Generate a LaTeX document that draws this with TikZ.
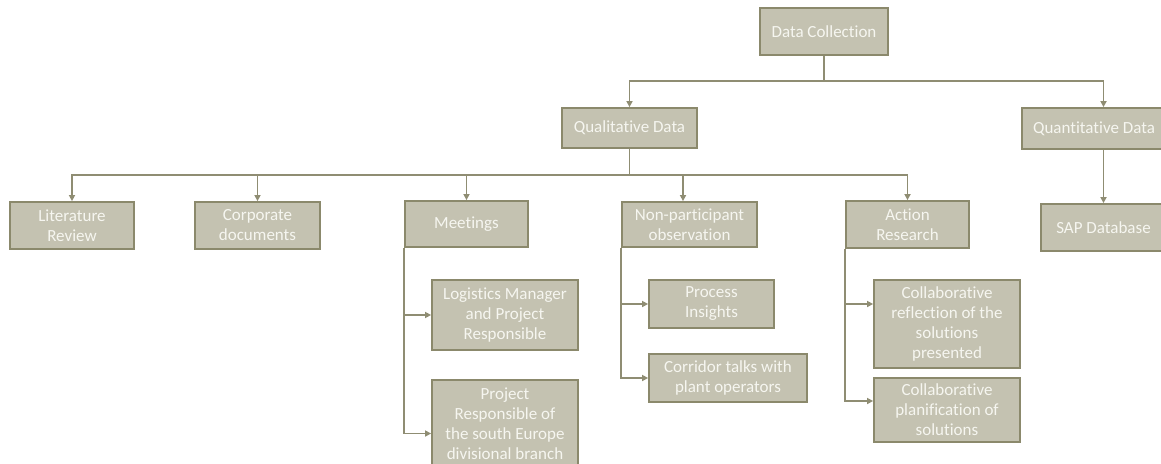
\documentclass[tikz,border=0pt]{standalone}
\usepackage{fontspec}
\setmainfont[Ligatures=NoCommon]{Carlito}
\usetikzlibrary{arrows.meta}
\definecolor{boxfill}{RGB}{196,194,177}
\definecolor{boxedge}{RGB}{139,137,108}
\definecolor{wire}{RGB}{143,141,115}
\definecolor{boxtext}{RGB}{246,246,240}
\tikzset{
  box/.style={draw=boxedge, line width=1.8pt, fill=boxfill, text=boxtext,
    inner sep=0pt, align=center, font=\fontsize{17}{20}\selectfont},
  wireline/.style={draw=wire, line width=1.5pt},
  arr/.style={wireline, -{Triangle[length=6pt,width=6pt]}},
}
\newcommand{\bx}[6]{\node[box, minimum width=#4pt, minimum height=#5pt] (#1) at (#2,#3) {#6};}
\begin{document}
\begin{tikzpicture}[x=1pt,y=-1pt]
\useasboundingbox (0,0) rectangle (1161,463);
\clip (0,0) rectangle (1161,463);
\fill[white] (0,0) rectangle (1161,463);

% top levels
\bx{dc}{824}{31.5}{128}{47}{Data Collection}
\bx{qual}{629.5}{128}{135}{40}{Qualitative Data}
\bx{quant}{1094}{128.5}{144}{41}{Quantitative Data}
\bx{sap}{1103.5}{227.5}{125}{47}{SAP Database}

% qualitative branches
\bx{lit}{72}{225.5}{124}{47}{Literature\\Review}
\bx{corp}{257.5}{225.5}{125}{47}{Corporate\\documents}
\bx{meet}{466.5}{224}{123}{46}{Meetings}
\bx{nonp}{689.5}{224.5}{135}{45}{Non-participant\\observation}
\bx{act}{907.5}{224.5}{123}{47}{Action\\Research}

% sub-items
\bx{log}{505}{315}{146}{70}{Logistics Manager\\and Project\\Responsible}
\bx{proj}{505}{423.5}{146}{87}{Project\\Responsible of\\the south Europe\\divisional branch}
\bx{proc}{711.5}{304}{125}{48}{Process\\Insights}
\bx{corr}{728}{378}{158}{48}{Corridor talks with\\plant operators}
\bx{refl}{947}{324}{146}{88}{Collaborative\\reflection of the\\solutions\\presented}
\bx{plan}{947}{410}{146}{64}{Collaborative\\planification of\\solutions}

% connectors: data collection
\draw[wireline] (dc.south) -- ++(0,25) coordinate (j1);
\draw[arr] (j1) -| (qual.north);
\draw[arr] (j1) -| (sap.north |- quant.north);
\draw[arr] (quant.south -| sap.north) -- (sap.north);

% connectors: qualitative data
\draw[wireline] (qual.south) -- ++(0,26) coordinate (j2);
\foreach \t in {lit,corp,meet,act}
  \draw[arr] (j2) -| (\t.north);
\draw[arr] (j2) -| ([xshift=-6.5pt]nonp.north);

% connectors: sub-items
\draw[arr] (meet.south west) |- (log.west);
\draw[arr] (meet.south west) |- ([yshift=-10pt]proj.west);
\draw[arr] (nonp.south west) |- (proc.west);
\draw[arr] (nonp.south west) |- (corr.west);
\draw[arr] (act.south west) |- ([yshift=20pt]refl.west);
\draw[arr] (act.south west) |- ([yshift=9pt]plan.west);
\end{tikzpicture}
\end{document}
